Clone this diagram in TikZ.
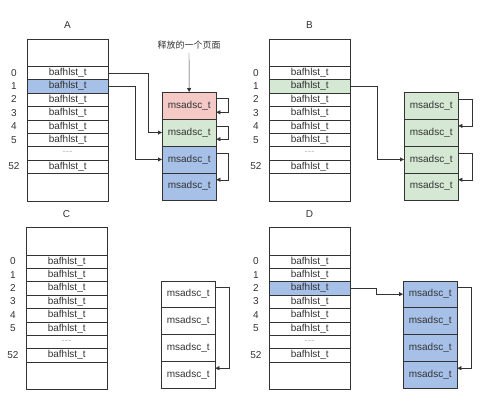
\documentclass[tikz,border=0pt]{standalone}
\usepackage{fontspec}
\setmainfont{Liberation Sans}
\newfontfamily\cjk{Noto Sans CJK SC}
\definecolor{rojo}{HTML}{F4C9C6}
\definecolor{verde}{HTML}{D5E8D4}
\definecolor{azul}{HTML}{A6C0E8}
\definecolor{linea}{HTML}{333333}
\usetikzlibrary{arrows.meta}
\newcommand{\puntos}{\raisebox{2pt}{\tiny.......}}

\begin{document}
\begin{tikzpicture}[x=1pt, y=-1pt,
        celda/.style={draw=linea, minimum width=81pt, minimum height=13.4pt, inner sep=0pt, anchor=north west, font=\fontsize{10}{10}\selectfont, text=linea},
        hueco/.style={draw=linea, minimum width=81pt, minimum height=27.5pt, inner sep=0pt, anchor=north west},
        pagina/.style={draw=linea, minimum width=54pt, minimum height=26.9pt, inner sep=0pt, anchor=north west, font=\fontsize{10}{10}\selectfont, text=linea},
        indice/.style={font=\fontsize{10}{10}\selectfont, text=linea},
        titulo/.style={font=\fontsize{10}{10}\selectfont, text=linea},
        flecha/.style={draw=linea, -{Triangle[length=4pt, width=4pt]}}
    ]
        \useasboundingbox (0,0) rectangle (488,410);

        % Panel A
        \node[titulo] (tA) at (67.5, 25) {A};
        \node[hueco] (A-top) at (27, 38.5) {};
        \foreach \i/\t in {0/bafhlst\_t, 1/bafhlst\_t, 2/bafhlst\_t, 3/bafhlst\_t, 4/bafhlst\_t, 5/bafhlst\_t, 6/\puntos, 7/bafhlst\_t}
            \node[celda] (A-\i) at (27, 66+13.4*\i) {\t};
        \foreach \i/\n in {0/0, 1/1, 2/2, 3/3, 4/4, 5/5, 7/52}
            \node[indice] (iA-\i) at (14, 72.7+13.4*\i) {\n};
        \node[celda, fill=azul] (A-1) at (27, 79.4) {bafhlst\_t};
        \node[hueco] (A-bot) at (27, 173.2) {};

        \node[pagina, fill=rojo] (pA-0) at (162, 92) {msadsc\_t};
        \node[pagina, fill=verde] (pA-1) at (162, 118.9) {msadsc\_t};
        \node[pagina, fill=azul] (pA-2) at (162, 145.8) {msadsc\_t};
        \node[pagina, fill=azul] (pA-3) at (162, 172.7) {msadsc\_t};

        \node[titulo, font=\cjk\fontsize{9}{10}\selectfont] (libre) at (189, 45) {释放的一个页面};
        \draw[flecha] (libre) -- (pA-0);
        \draw[flecha] (A-0.east) -- ++(40,0) |- (pA-1.west);
        \draw[flecha] (A-1.east) -- ++(27,0) |- (pA-2.west);
        \draw[flecha] ([yshift=-6.5]pA-0.north east) -- ++(12,0) |- ([yshift=7]pA-0.south east);
        \draw[flecha] ([yshift=-7]pA-1.north east) -- ++(12,0) |- ([yshift=7]pA-1.south east);
        \draw[flecha] ([yshift=-7]pA-2.north east) -- ++(12,0) |- ([yshift=-7]pA-3.north east);

        % Panel B
        \node[titulo] (tB) at (309.5, 25) {B};
        \node[hueco] (B-top) at (269, 38.5) {};
        \foreach \i/\t in {0/bafhlst\_t, 1/bafhlst\_t, 2/bafhlst\_t, 3/bafhlst\_t, 4/bafhlst\_t, 5/bafhlst\_t, 6/\puntos, 7/bafhlst\_t}
            \node[celda] (B-\i) at (269, 66+13.4*\i) {\t};
        \foreach \i/\n in {0/0, 1/1, 2/2, 3/3, 4/4, 5/5, 7/52}
            \node[indice] (iB-\i) at (256, 72.7+13.4*\i) {\n};
        \node[celda, fill=verde] (B-1) at (269, 79.4) {bafhlst\_t};
        \node[hueco] (B-bot) at (269, 173.2) {};

        \node[pagina, fill=verde] (pB-0) at (404, 92) {msadsc\_t};
        \node[pagina, fill=verde] (pB-1) at (404, 118.9) {msadsc\_t};
        \node[pagina, fill=verde] (pB-2) at (404, 145.8) {msadsc\_t};
        \node[pagina, fill=verde] (pB-3) at (404, 172.7) {msadsc\_t};

        \draw[flecha] (B-1.east) -- ++(27,0) |- (pB-2.west);
        \draw[flecha] ([yshift=-7]pB-0.north east) -- ++(14,0) |- ([yshift=-7]pB-1.north east);
        \draw[flecha] ([yshift=-7]pB-2.north east) -- ++(14,0) |- ([yshift=-7]pB-3.north east);

        % Panel C
        \node[titulo] (tC) at (66.5, 214) {C};
        \node[hueco] (C-top) at (26, 227) {};
        \foreach \i/\t in {0/bafhlst\_t, 1/bafhlst\_t, 2/bafhlst\_t, 3/bafhlst\_t, 4/bafhlst\_t, 5/bafhlst\_t, 6/\puntos, 7/bafhlst\_t}
            \node[celda] (C-\i) at (26, 254.5+13.4*\i) {\t};
        \foreach \i/\n in {0/0, 1/1, 2/2, 3/3, 4/4, 5/5, 7/52}
            \node[indice] (iC-\i) at (13, 261.2+13.4*\i) {\n};
        \node[hueco] (C-bot) at (26, 361.7) {};

        \node[pagina] (pC-0) at (161, 280.5) {msadsc\_t};
        \node[pagina] (pC-1) at (161, 307.4) {msadsc\_t};
        \node[pagina] (pC-2) at (161, 334.3) {msadsc\_t};
        \node[pagina] (pC-3) at (161, 361.2) {msadsc\_t};

        \draw[flecha] ([yshift=-7]pC-0.north east) -- ++(14,0) |- ([yshift=-7]pC-3.north east);

        % Panel D
        \node[titulo] (tD) at (309.5, 214) {D};
        \node[hueco] (D-top) at (269, 227) {};
        \foreach \i/\t in {0/bafhlst\_t, 1/bafhlst\_t, 2/bafhlst\_t, 3/bafhlst\_t, 4/bafhlst\_t, 5/bafhlst\_t, 6/\puntos, 7/bafhlst\_t}
            \node[celda] (D-\i) at (269, 254.5+13.4*\i) {\t};
        \foreach \i/\n in {0/0, 1/1, 2/2, 3/3, 4/4, 5/5, 7/52}
            \node[indice] (iD-\i) at (256, 261.2+13.4*\i) {\n};
        \node[celda, fill=azul] (D-2) at (269, 281.3) {bafhlst\_t};
        \node[hueco] (D-bot) at (269, 361.7) {};

        \node[pagina, fill=azul] (pD-0) at (403, 280.5) {msadsc\_t};
        \node[pagina, fill=azul] (pD-1) at (403, 307.4) {msadsc\_t};
        \node[pagina, fill=azul] (pD-2) at (403, 334.3) {msadsc\_t};
        \node[pagina, fill=azul] (pD-3) at (403, 361.2) {msadsc\_t};

        \draw[flecha] (D-2.east) -- ++(26,0) |- (pD-0.west);
        \draw[flecha] ([yshift=-7]pD-0.north east) -- ++(14,0) |- ([yshift=-7]pD-3.north east);
    \end{tikzpicture}
\end{document}
